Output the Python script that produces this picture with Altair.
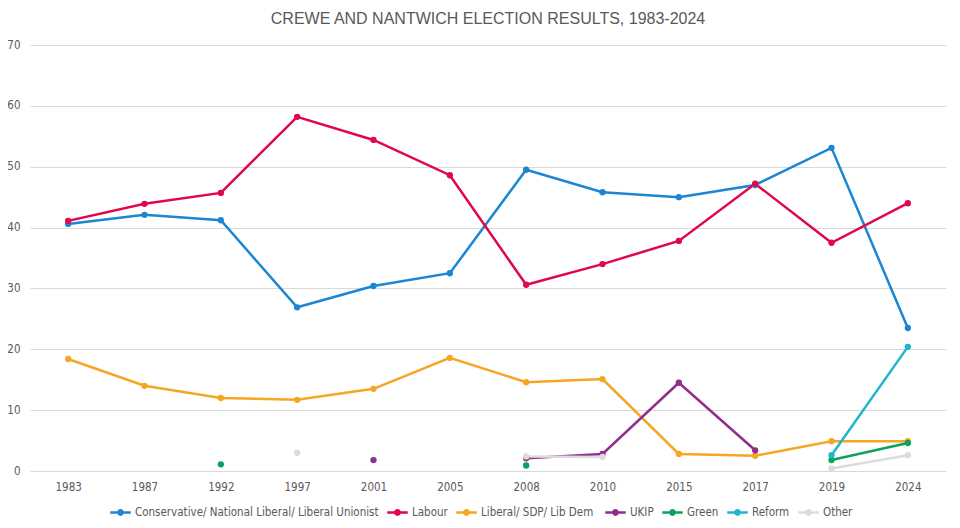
import altair as alt
import pandas as pd

years = ["1983", "1987", "1992", "1997", "2001", "2005", "2008", "2010", "2015", "2017", "2019", "2024"]

conservative = [40.6, 42.1, 41.2, 26.9, 30.4, 32.5, 49.5, 45.8, 45.0, 47.0, 53.1, 23.5]
labour = [41.1, 43.9, 45.7, 58.2, 54.4, 48.6, 30.6, 34.0, 37.8, 47.2, 37.5, 44.0]
libdem = [18.4, 14.0, 12.0, 11.7, 13.5, 18.6, 14.6, 15.1, 2.8, 2.5, 4.9, 4.9]
ukip = [None, None, None, None, 1.8, None, 2.1, 2.8, 14.5, 3.4, None, None]
green = [None, None, 1.1, None, None, None, 0.9, None, None, None, 1.8, 4.6]
reform = [None, None, None, None, None, None, None, None, None, None, 2.6, 20.4]
other = [None, None, None, 3.0, None, None, 2.4, 2.3, None, None, 0.4, 2.6]

parties = ["Conservative/ National Liberal/ Liberal Unionist", "Labour", "Liberal/ SDP/ Lib  Dem",
           "UKIP", "Green", "Reform", "Other"]
series = [conservative, labour, libdem, ukip, green, reform, other]
colors = ["#1a86d4", "#e0074a", "#f5a623", "#912d8c", "#0aa35e", "#1cb7cf", "#dcdcdc"]

rows = []
for party, vals in zip(parties, series):
    seg = 0
    prev_none = True
    for yr, v in zip(years, vals):
        if v is None:
            prev_none = True
            continue
        if prev_none:
            seg += 1
        prev_none = False
        rows.append({"year": yr, "party": party, "value": v, "seg": f"{party}-{seg}"})
df = pd.DataFrame(rows)

font = "Liberation Sans Narrow, DejaVu Sans Condensed, sans-serif"
legend_shape = ("M-1,-0.11 L1,-0.11 L1,0.11 L-1,0.11 Z "
                "M0.33,0 A0.33,0.33 0 1,1 -0.33,0 A0.33,0.33 0 1,1 0.33,0 Z")

x = alt.X("year:O", sort=years, title=None,
          scale=alt.Scale(type="point", padding=0.5),
          axis=alt.Axis(labelAngle=0, ticks=False, domain=False, labelPadding=10,
                        labelFont=font, labelFontSize=11.5, labelColor="#595959"))
y = alt.Y("value:Q", title=None,
          scale=alt.Scale(domain=[0, 70], nice=False),
          axis=alt.Axis(values=[0, 10, 20, 30, 40, 50, 60, 70], ticks=False, domain=False,
                        gridColor="#d9d9d9", gridWidth=1, labelPadding=10,
                        labelFont=font, labelFontSize=11.5, labelColor="#595959"))
color = alt.Color("party:N", sort=parties,
                  scale=alt.Scale(domain=parties, range=colors),
                  legend=alt.Legend(title=None, orient="none", direction="horizontal",
                                    legendX=80, legendY=457,
                                    symbolType=legend_shape, symbolSize=420,
                                    symbolStrokeWidth=0, labelFont=font, labelFontSize=11.5,
                                    labelColor="#595959", columnPadding=8, labelOffset=4,
                                    labelLimit=400))

base = alt.Chart(df)
lines = base.mark_line(strokeWidth=2.5).encode(x=x, y=y, color=color, detail="seg:N")
points = base.mark_point(filled=True, size=40, opacity=1, shape="circle").encode(x=x, y=y, color=color)

chart = alt.layer(lines, points).properties(
    width=916, height=426,
    title=alt.TitleParams("CREWE AND NANTWICH ELECTION RESULTS, 1983-2024",
                          font="Liberation Sans, sans-serif", fontSize=16, fontWeight="normal",
                          color="#595959", offset=12, anchor="middle"),
    autosize=alt.AutoSizeParams(type="none"),
    padding={"left": 22, "top": 37, "right": 6, "bottom": 49},
).configure_view(stroke=None)

chart.save("out.html", embed_options={"renderer": "svg", "actions": False})
